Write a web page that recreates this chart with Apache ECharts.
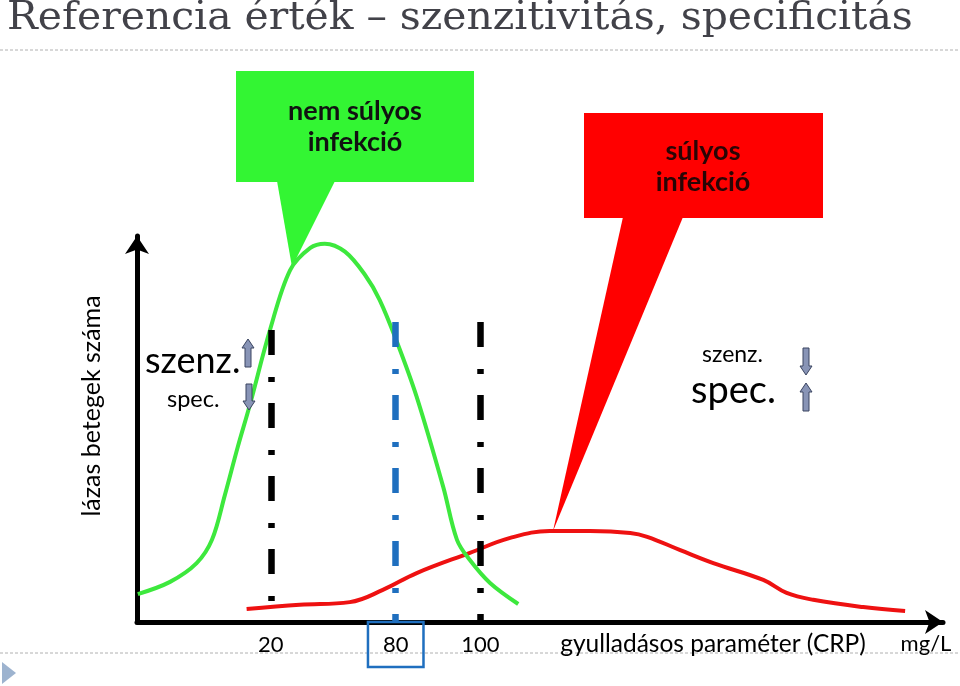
<!DOCTYPE html>
<html><head><meta charset="utf-8">
<script src="https://cdn.jsdelivr.net/npm/echarts@6/dist/echarts.min.js"></script>
<style>html,body{margin:0;padding:0;background:#fff}#c{width:960px;height:686px}</style>
</head><body><div id="c"></div>
<script>
// horizontal position (arbitrary CRP scale units) and relative patient counts
const greenPos   = [0.1, 4.1, 7.4, 9.3, 10.9, 12.5, 14.0, 16.5, 19.0, 21.5, 23.3, 25.8, 28.3, 30.1, 32.3, 34.7, 38.0, 39.7, 41.3, 43.8, 47.3];
const greenCount = [7.3, 10.5, 15.4, 21.5, 33.2, 45.8, 56.8, 76.4, 92.1, 97.9, 99.0, 96.9, 90.8, 84.3, 73.0, 58.9, 35.3, 21.5, 16.2, 10.2, 4.7];
const redPos     = [13.6, 20.2, 26.4, 30.5, 34.7, 41.3, 46.3, 51.2, 56.2, 61.2, 63.3, 67.4, 71.5, 77.7, 80.6, 83.9, 90.1, 95.3];
const redCount   = [3.4, 4.5, 5.2, 8.4, 12.8, 18.1, 22.0, 23.8, 23.8, 23.3, 22.3, 18.8, 15.4, 11.0, 7.6, 5.8, 3.9, 2.9];
const cutoffPos    = [16.6, 32.1, 42.6];
const cutoffLabels = ['20', '80', '100'];
const cutoffTop    = [76.4, 78.5, 78.5];
const cutoffColors = ['#000000', '#1f6fbf', '#000000'];

const chart = echarts.init(document.getElementById('c'), null, {renderer: 'canvas'});
const FONT = 'Lato, "Open Sans", sans-serif';

function arrow(cx, y0, y1, up) {
  const sw = 3, hw = 6, hl = 9;
  let pts;
  if (up) pts = [[cx, y0], [cx + hw, y0 + hl], [cx + sw, y0 + hl], [cx + sw, y1], [cx - sw, y1], [cx - sw, y0 + hl], [cx - hw, y0 + hl]];
  else pts = [[cx, y1], [cx + hw, y1 - hl], [cx + sw, y1 - hl], [cx + sw, y0], [cx - sw, y0], [cx - sw, y1 - hl], [cx - hw, y1 - hl]];
  return {type: 'polygon', shape: {points: pts}, style: {fill: '#8894b6', stroke: '#3a4460', lineWidth: 1}, z: 10};
}

const markData = cutoffPos.map((p, i) => [
  {coord: [p, cutoffTop[i]], lineStyle: {color: cutoffColors[i], width: 6.5, type: [25, 22, 5, 21]}},
  {coord: [p, 0]}
]);

const option = {
  animation: false,
  backgroundColor: '#ffffff',
  grid: {left: 137, right: 17, top: 236, bottom: 64, outerBoundsMode: 'none'},
  xAxis: {
    type: 'value', min: 0, max: 100,
    splitLine: {show: false},
    axisTick: {show: false},
    axisLine: {show: true, lineStyle: {color: '#000', width: 5}, symbol: ['none', 'arrow'], symbolSize: [18, 18]},
    axisLabel: {
      customValues: cutoffPos,
      margin: 0,
      formatter: function (v) {
        const i = cutoffPos.indexOf(v);
        const t = i >= 0 ? cutoffLabels[i] : '';
        return i === 1 ? '{box|' + t + '}' : '{n|' + t + '}';
      },
      rich: {
        n: {fontFamily: FONT, fontSize: 22, color: '#000', padding: [12, 15, 11, 15]},
        box: {fontFamily: FONT, fontSize: 22, color: '#000', padding: [12, 15, 11, 15], borderColor: '#1f6fbf', borderWidth: 2.5}
      }
    }
  },
  yAxis: {
    type: 'value', min: 0, max: 101,
    splitLine: {show: false}, axisTick: {show: false}, axisLabel: {show: false},
    axisLine: {show: true, lineStyle: {color: '#000', width: 5}, symbol: ['none', 'arrow'], symbolSize: [18, 18]}
  },
  series: [
    {
      type: 'line', name: 'súlyos infekció', smooth: 0.4, showSymbol: false, silent: true,
      data: redPos.map((x, i) => [x, redCount[i]]),
      lineStyle: {color: '#ee1111', width: 4}, z: 3
    },
    {
      type: 'line', name: 'nem súlyos infekció', smooth: 0.35, showSymbol: false, silent: true,
      data: greenPos.map((x, i) => [x, greenCount[i]]),
      lineStyle: {color: '#3de83d', width: 4}, z: 4,
      markLine: {silent: true, symbol: 'none', label: {show: false}, data: markData, z: 5}
    }
  ],
  graphic: [
    // title
    {type: 'text', x: 7, y: -1, scaleX: 1.021, style: {text: 'Referencia érték – szenzitivitás, specificitás', font: '40px "DejaVu Serif", serif', fill: '#424249', align: 'left', verticalAlign: 'top'}},
    {type: 'line', shape: {x1: 0, y1: 50, x2: 960, y2: 50}, style: {stroke: '#b0b0b0', lineWidth: 1, lineDash: [3, 2]}},
    {type: 'line', shape: {x1: 0, y1: 653, x2: 960, y2: 653}, style: {stroke: '#b0b0b0', lineWidth: 1, lineDash: [3, 2]}, z: -1},
    {type: 'polygon', shape: {points: [[2, 662], [16, 673], [2, 684]]}, style: {fill: '#9db3cf'}},
    // green callout
    {type: 'rect', shape: {x: 236, y: 71, width: 238, height: 111}, style: {fill: '#33f533'}},
    {type: 'polygon', shape: {points: [[277, 181], [335, 181], [292, 267]]}, style: {fill: '#33f533'}},
    {type: 'text', x: 355, y: 127, style: {text: 'nem súlyos\ninfekció', font: 'bold 27px ' + FONT, fill: '#111', align: 'center', verticalAlign: 'middle', lineHeight: 31}},
    // red callout
    {type: 'rect', shape: {x: 584, y: 113, width: 239, height: 105}, style: {fill: '#ff0000'}},
    {type: 'polygon', shape: {points: [[623, 217], [683, 217], [553, 531]]}, style: {fill: '#ff0000'}},
    {type: 'text', x: 703, y: 167, style: {text: 'súlyos\ninfekció', font: 'bold 27px ' + FONT, fill: '#2a0505', align: 'center', verticalAlign: 'middle', lineHeight: 31}},
    // y axis title
    {type: 'text', x: 92, y: 406, rotation: Math.PI / 2, style: {text: 'lázas betegek száma', font: '25px ' + FONT, fill: '#000', align: 'center', verticalAlign: 'middle'}},
    // x axis titles
    {type: 'text', x: 713, y: 644, style: {text: 'gyulladásos paraméter (CRP)', font: '24.5px ' + FONT, fill: '#000', align: 'center', verticalAlign: 'middle'}},
    {type: 'text', x: 926, y: 644, style: {text: 'mg/L', font: '22px ' + FONT, fill: '#000', align: 'center', verticalAlign: 'middle'}},
    // left annotation
    {type: 'text', x: 145, y: 361, style: {text: 'szenz.', font: '36px ' + FONT, fill: '#000', align: 'left', verticalAlign: 'middle'}},
    {type: 'text', x: 167, y: 399, style: {text: 'spec.', font: '23.5px ' + FONT, fill: '#000', align: 'left', verticalAlign: 'middle'}},
    arrow(248, 339, 367, true),
    arrow(249, 384, 410, false),
    // right annotation
    {type: 'text', x: 702, y: 355, style: {text: 'szenz.', font: '23px ' + FONT, fill: '#000', align: 'left', verticalAlign: 'middle'}},
    {type: 'text', x: 691, y: 391, style: {text: 'spec.', font: '38px ' + FONT, fill: '#000', align: 'left', verticalAlign: 'middle'}},
    arrow(806, 348, 375, false),
    arrow(806, 383, 411, true)
  ]
};
chart.setOption(option);
</script></body></html>
